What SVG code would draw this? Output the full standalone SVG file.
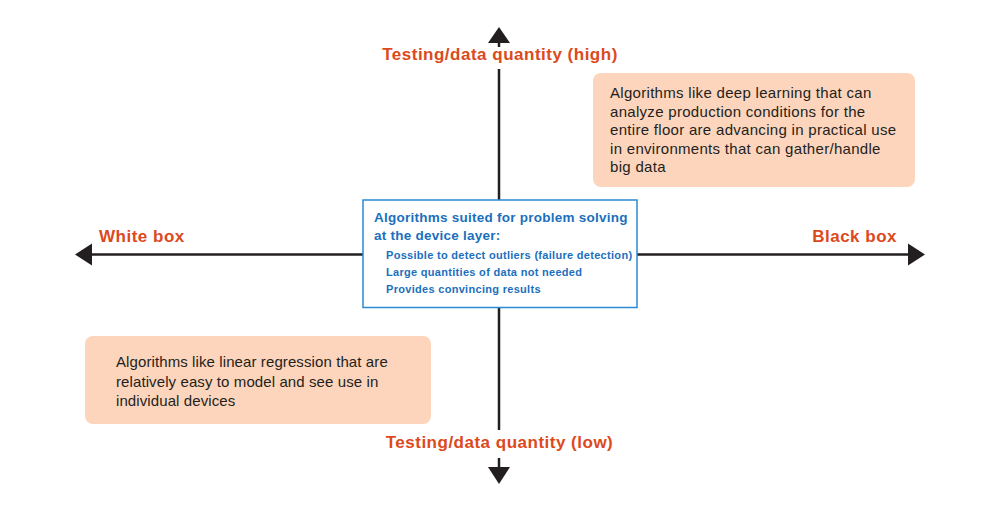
<svg xmlns="http://www.w3.org/2000/svg" width="1000" height="505" viewBox="0 0 1000 505">
<style>
.ax{stroke:#231f20;stroke-width:2.5;fill:none}
.head{fill:#231f20}
.lab{font-family:"Liberation Sans",Arial,sans-serif;font-weight:bold;font-size:17px;letter-spacing:0.5px;fill:#dc4a1c}
.note{fill:#fdd5bc}
.nt{font-family:"Liberation Sans",Arial,sans-serif;font-size:15px;letter-spacing:0.3px;fill:#231f20}
.nt2{letter-spacing:0.1px}
.ct{font-family:"Liberation Sans",Arial,sans-serif;font-weight:bold;font-size:13.5px;letter-spacing:0.25px;fill:#1b6fbd}
.cb{font-family:"Liberation Sans",Arial,sans-serif;font-weight:bold;font-size:11px;letter-spacing:0.3px;fill:#1b6fbd}
</style>
<rect width="1000" height="505" fill="#ffffff"/>
<g id="connectors">
<line class="ax" x1="499" y1="41" x2="499" y2="47"/>
<line class="ax" x1="499" y1="69" x2="499" y2="200"/>
<line class="ax" x1="499" y1="308" x2="499" y2="430"/>
<line class="ax" x1="499" y1="458" x2="499" y2="468"/>
<polygon class="head" points="499,27 510,43 488,43"/>
<polygon class="head" points="499,484 510,467 488,467"/>
<line class="ax" x1="91" y1="254.5" x2="363" y2="254.5"/>
<line class="ax" x1="637" y1="254.5" x2="909" y2="254.5"/>
<polygon class="head" points="75,254.5 92,243.5 92,265.5"/>
<polygon class="head" points="925,254.5 908,243.5 908,265.5"/>
</g>
<g id="label-high"><text class="lab" x="500" y="60" text-anchor="middle">Testing/data quantity (high)</text></g>
<g id="label-low"><text class="lab" x="499.5" y="448" text-anchor="middle">Testing/data quantity (low)</text></g>
<g id="label-white"><text class="lab" x="99" y="242">White box</text></g>
<g id="label-black"><text class="lab" x="897" y="242" text-anchor="end">Black box</text></g>
<g id="center">
<rect x="363" y="200" width="274" height="107.5" fill="#ffffff" stroke="#2a8bd4" stroke-width="1.5"/>
<text class="ct" x="374" y="222">Algorithms suited for problem solving</text>
<text class="ct" x="374" y="240">at the device layer:</text>
<text class="cb" x="386" y="259">Possible to detect outliers (failure detection)</text>
<text class="cb" x="386" y="276">Large quantities of data not needed</text>
<text class="cb" x="386" y="293">Provides convincing results</text>
</g>
<g id="note-deep">
<rect class="note" x="593" y="73" width="322" height="114" rx="8"/>
<text class="nt" x="610" y="98">Algorithms like deep learning that can</text>
<text class="nt" x="610" y="116.5">analyze production conditions for the</text>
<text class="nt" x="610" y="135">entire floor are advancing in practical use</text>
<text class="nt" x="610" y="153.5">in environments that can gather/handle</text>
<text class="nt" x="610" y="172">big data</text>
</g>
<g id="note-linear">
<rect class="note" x="85" y="336" width="346" height="88" rx="8"/>
<text class="nt nt2" x="116" y="367">Algorithms like linear regression that are</text>
<text class="nt nt2" x="116" y="386.5">relatively easy to model and see use in</text>
<text class="nt nt2" x="116" y="406">individual devices</text>
</g>
</svg>
